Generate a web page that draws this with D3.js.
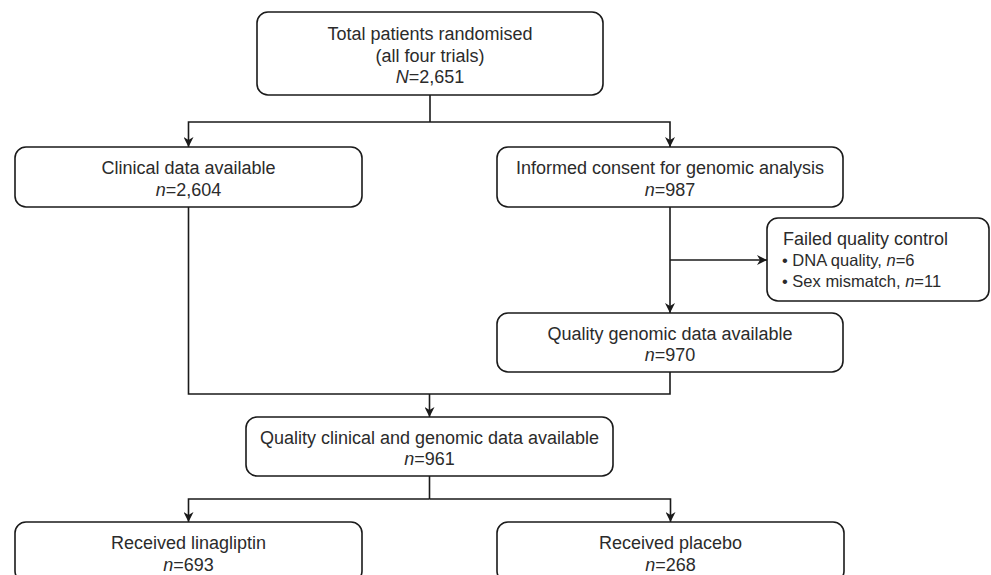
<!DOCTYPE html>
<html>
<head>
<meta charset="utf-8">
<script src="https://cdn.jsdelivr.net/npm/d3@7"></script>
<style>
  html, body { margin: 0; padding: 0; background: #fff; }
  svg { display: block; }
</style>
</head>
<body>
<svg id="chart" width="991" height="575"></svg>
<script>
// flow boxes: title lines and counts
var boxIds = ['total', 'clinical', 'consent', 'genomic', 'merged', 'lina', 'placebo'];
var boxTitles = [
  ['Total patients randomised', '(all four trials)'],
  ['Clinical data available'],
  ['Informed consent for genomic analysis'],
  ['Quality genomic data available'],
  ['Quality clinical and genomic data available'],
  ['Received linagliptin'],
  ['Received placebo']
];
var countSymbols = ['N', 'n', 'n', 'n', 'n', 'n', 'n'];
var counts = ['2,651', '2,604', '987', '970', '961', '693', '268'];

// exclusion box
var failTitle = 'Failed quality control';
var failReasons = ['DNA quality, ', 'Sex mismatch, '];
var failCounts = ['6', '11'];

// layout (pixels)
var layout = {
  total:    {x0: 257, x1: 603, y0: 12,  y1: 95},
  clinical: {x0: 15,  x1: 362, y0: 147, y1: 207},
  consent:  {x0: 497, x1: 843, y0: 147, y1: 207},
  genomic:  {x0: 497, x1: 843, y0: 313, y1: 372},
  merged:   {x0: 246, x1: 613, y0: 417, y1: 476},
  lina:     {x0: 15,  x1: 362, y0: 522, y1: 582},
  placebo:  {x0: 497, x1: 844, y0: 522, y1: 582},
  fail:     {x0: 767, x1: 989, y0: 218, y1: 301}
};

var ink = '#1a1a1a', textCol = '#2b2b2b';
var font = '"Liberation Sans", Arial, Helvetica, sans-serif';
var lineH = 21.5;

var svg = d3.select('#chart');

svg.append('defs').append('marker')
  .attr('id', 'arrow')
  .attr('viewBox', '0 0 10 10')
  .attr('refX', 10).attr('refY', 5)
  .attr('markerUnits', 'userSpaceOnUse')
  .attr('markerWidth', 10).attr('markerHeight', 10)
  .attr('orient', 'auto')
  .append('path')
  .attr('d', 'M0,0 L10,5 L0,10 L3,5 Z')
  .attr('fill', ink);

function cx(id) { return (layout[id].x0 + layout[id].x1) / 2; }

var boxes = boxIds.map(function(id, i) {
  return {id: id, lines: boxTitles[i], sym: countSymbols[i], count: counts[i]};
});

// connectors
var links = svg.append('g')
  .attr('fill', 'none')
  .attr('stroke', ink)
  .attr('stroke-width', 1.6);

var topY = 122, mergeY = 394, splitY = 499, failY = 260;

function seg(pts, arrow) {
  var el = links.append('path').attr('d', d3.line()(pts));
  if (arrow) el.attr('marker-end', 'url(#arrow)');
}

seg([[cx('total'), layout.total.y1], [cx('total'), topY]]);
seg([[cx('total'), topY], [cx('clinical'), topY], [cx('clinical'), layout.clinical.y0]], true);
seg([[cx('total'), topY], [cx('consent'), topY], [cx('consent'), layout.consent.y0]], true);
seg([[cx('consent'), layout.consent.y1], [cx('consent'), layout.genomic.y0]], true);
seg([[cx('consent'), failY], [layout.fail.x0, failY]], true);
seg([[cx('clinical'), layout.clinical.y1], [cx('clinical'), mergeY], [cx('genomic'), mergeY], [cx('genomic'), layout.genomic.y1]]);
seg([[cx('merged'), mergeY], [cx('merged'), layout.merged.y0]], true);
seg([[cx('merged'), layout.merged.y1], [cx('merged'), splitY]]);
seg([[cx('merged'), splitY], [cx('lina'), splitY], [cx('lina'), layout.lina.y0]], true);
seg([[cx('merged'), splitY], [cx('placebo'), splitY], [cx('placebo'), layout.placebo.y0]], true);

// boxes
var g = svg.selectAll('.box')
  .data(boxes)
  .enter().append('g')
  .attr('class', 'box');

g.append('rect')
  .attr('x', function(d) { return layout[d.id].x0; })
  .attr('y', function(d) { return layout[d.id].y0; })
  .attr('width', function(d) { return layout[d.id].x1 - layout[d.id].x0; })
  .attr('height', function(d) { return layout[d.id].y1 - layout[d.id].y0; })
  .attr('rx', 11).attr('ry', 11)
  .attr('fill', '#fff')
  .attr('stroke', ink)
  .attr('stroke-width', 1.6);

g.each(function(d) {
  var b = layout[d.id];
  var n = d.lines.length + 1;
  var mid = (b.y0 + b.y1) / 2;
  var sel = d3.select(this);
  var x = cx(d.id);
  d.lines.forEach(function(t, i) {
    sel.append('text')
      .attr('x', x)
      .attr('y', mid + (i - (n - 1) / 2) * lineH + 8)
      .text(t);
  });
  var last = sel.append('text')
    .attr('x', x)
    .attr('y', mid + ((n - 1) / 2) * lineH + 8);
  last.append('tspan').attr('font-style', 'italic').text(d.sym);
  last.append('tspan').text('=' + d.count);
});

g.selectAll('text')
  .attr('text-anchor', 'middle')
  .attr('font-family', font)
  .attr('font-size', '18px')
  .attr('fill', textCol);

// exclusion box
var fb = layout.fail;
var fg = svg.append('g');
fg.append('rect')
  .attr('x', fb.x0).attr('y', fb.y0)
  .attr('width', fb.x1 - fb.x0).attr('height', fb.y1 - fb.y0)
  .attr('rx', 11).attr('ry', 11)
  .attr('fill', '#fff')
  .attr('stroke', ink)
  .attr('stroke-width', 1.6);

fg.append('text')
  .attr('x', fb.x0 + 16).attr('y', fb.y0 + 27)
  .attr('font-family', font).attr('font-size', '18px')
  .attr('fill', textCol)
  .text(failTitle);

failReasons.forEach(function(r, i) {
  var t = fg.append('text')
    .attr('x', fb.x0 + 15).attr('y', fb.y0 + 48 + i * 21)
    .attr('font-family', font).attr('font-size', '16.5px')
    .attr('fill', textCol);
  t.append('tspan').text('\u2022 ' + r);
  t.append('tspan').attr('font-style', 'italic').text('n');
  t.append('tspan').text('=' + failCounts[i]);
});
</script>
</body>
</html>
